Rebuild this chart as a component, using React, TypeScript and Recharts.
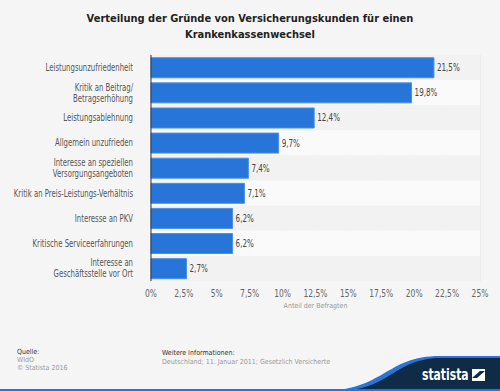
import React from "react";
import {
  BarChart,
  Bar,
  XAxis,
  YAxis,
  CartesianGrid,
  ReferenceArea,
  LabelList,
  Label,
} from "recharts";

const categories = [
  "Leistungsunzufriedenheit",
  "Kritik an Beitrag/\nBetragserhöhung",
  "Leistungsablehnung",
  "Allgemein unzufrieden",
  "Interesse an speziellen\nVersorgungsangeboten",
  "Kritik an Preis-Leistungs-Verhältnis",
  "Interesse an PKV",
  "Kritische Serviceerfahrungen",
  "Interesse an\nGeschäftsstelle vor Ort",
];
const shares = [21.5, 19.8, 12.4, 9.7, 7.4, 7.1, 6.2, 6.2, 2.7];
const xTicks = [0, 2.5, 5, 7.5, 10, 12.5, 15, 17.5, 20, 22.5, 25];

const data = categories.map((name, i) => ({ name, value: shares[i] }));

const FONT = "'DejaVu Sans Condensed', 'DejaVu Sans', sans-serif";
const pct = (v: number) => `${String(v).replace(".", ",")}%`;

// condensed look: draw text at (x, y) and squeeze it horizontally
const Narrow = ({ x, y, anchor, size, fill, squeeze = 0.8, children }: any) => (
  <g transform={`translate(${x},${y}) scale(${squeeze},1)`}>
    <text x={0} y={0} textAnchor={anchor} fontSize={size} fill={fill} fontFamily={FONT}>
      {children}
    </text>
  </g>
);

const CategoryTick = ({ x, y, payload }: any) => {
  const lines = String(payload.value).split("\n");
  const lh = 11;
  const start = -((lines.length - 1) * lh) / 2 + 3.5;
  return (
    <g>
      {lines.map((l, i) => (
        <Narrow key={i} x={x - 10} y={y + start + i * lh} anchor="end" size={10} fill="#555" squeeze={0.77}>
          {l}
        </Narrow>
      ))}
    </g>
  );
};

const ValueTick = ({ x, y, payload }: any) => (
  <Narrow x={x} y={y + 8} anchor="middle" size={10.5} fill="#666">
    {pct(payload.value)}
  </Narrow>
);

const BarValue = ({ x, y, width, height, value }: any) => (
  <Narrow x={x + width + 3} y={y + height / 2 + 3.5} anchor="start" size={10} fill="#444">
    {pct(value)}
  </Narrow>
);

export default function App() {
  return (
    <div
      style={{
        position: "relative",
        width: 500,
        height: 391,
        background: "#f5f5f5",
        overflow: "hidden",
        fontFamily: FONT,
      }}>
      <style>{`body{margin:0}`}</style>
      <div
        style={{
          position: "absolute",
          top: 11,
          left: 0,
          width: 500,
          textAlign: "center",
          fontFamily: FONT,
          fontWeight: "bold",
          fontSize: 11,
          lineHeight: "16px",
          color: "#222",
        }}>
        Verteilung der Gründe von Versicherungskunden für einen
        <br />
        Krankenkassenwechsel
      </div>
      <BarChart
        width={500}
        height={391}
        layout="vertical"
        data={data}
        margin={{ top: 55, right: 20, bottom: 80, left: 6 }}
        barCategoryGap="11%"
        style={{ position: "absolute", top: 0, left: 0 }}>
        {categories.map((c, i) => (
          <ReferenceArea
            key={c}
            y1={c}
            y2={c}
            x1={0}
            x2={25}
            fill={i % 2 === 0 ? "#f2f2f2" : "#fafafa"}
            fillOpacity={1}
            stroke="none"
          />
        ))}
        <CartesianGrid horizontal={false} stroke="#e2e2e2" />
        <XAxis
          type="number"
          domain={[0, 25]}
          ticks={xTicks}
          axisLine={false}
          tickLine={false}
          tick={<ValueTick />}
          tickMargin={2}
          height={30}>
          <Label
            value="Anteil der Befragten"
            position="insideBottom"
            offset={3}
            style={{ fontSize: 7, fill: "#999", fontFamily: FONT }}
          />
        </XAxis>
        <YAxis
          type="category"
          dataKey="name"
          width={145}
          tick={<CategoryTick />}
          tickLine={false}
          axisLine={{ stroke: "#333", strokeWidth: 1 }}
          interval={0}
        />
        <Bar
          dataKey="value"
          fill="#2875da"
          stroke="#4b8fe6"
          strokeWidth={1}
          isAnimationActive={false}>
          <LabelList dataKey="value" content={<BarValue />} />
        </Bar>
      </BarChart>
      <div style={{ position: "absolute", left: 17, top: 348, fontSize: 7, lineHeight: "8px", color: "#333" }}>
        Quelle:
        <div style={{ color: "#999" }}>WIdO</div>
        <div style={{ color: "#999" }}>© Statista 2016</div>
      </div>
      <div style={{ position: "absolute", left: 162, top: 349, fontSize: 7, lineHeight: "9px", color: "#333" }}>
        Weitere Informationen:
        <div style={{ color: "#999" }}>Deutschland; 11. Januar 2011; Gesetzlich Versicherte</div>
      </div>
      <svg width={500} height={391} style={{ position: "absolute", top: 0, left: 0 }}>
        <path d="M320 391 C385 391 385 356 440 356 L500 356 L500 391 Z" fill="#2875da" />
        <path d="M335 391 C392 391 392 358 442 358 L500 358 L500 391 Z" fill="#0f2b46" />
        <rect x={0} y={389} width={500} height={2} fill="#2875da" />
        <g transform="translate(422,380) scale(0.8,1)">
          <text x={0} y={0} fill="#fff" fontFamily={FONT} fontWeight="bold" fontSize={15}>
            statista
          </text>
        </g>
        <rect x={472} y={369} width={13} height={12} fill="#fff" />
        <path d="M472 378 L477 378 L485 371 L480 371 Z" fill="#0f2b46" />
      </svg>
    </div>
  );
}
